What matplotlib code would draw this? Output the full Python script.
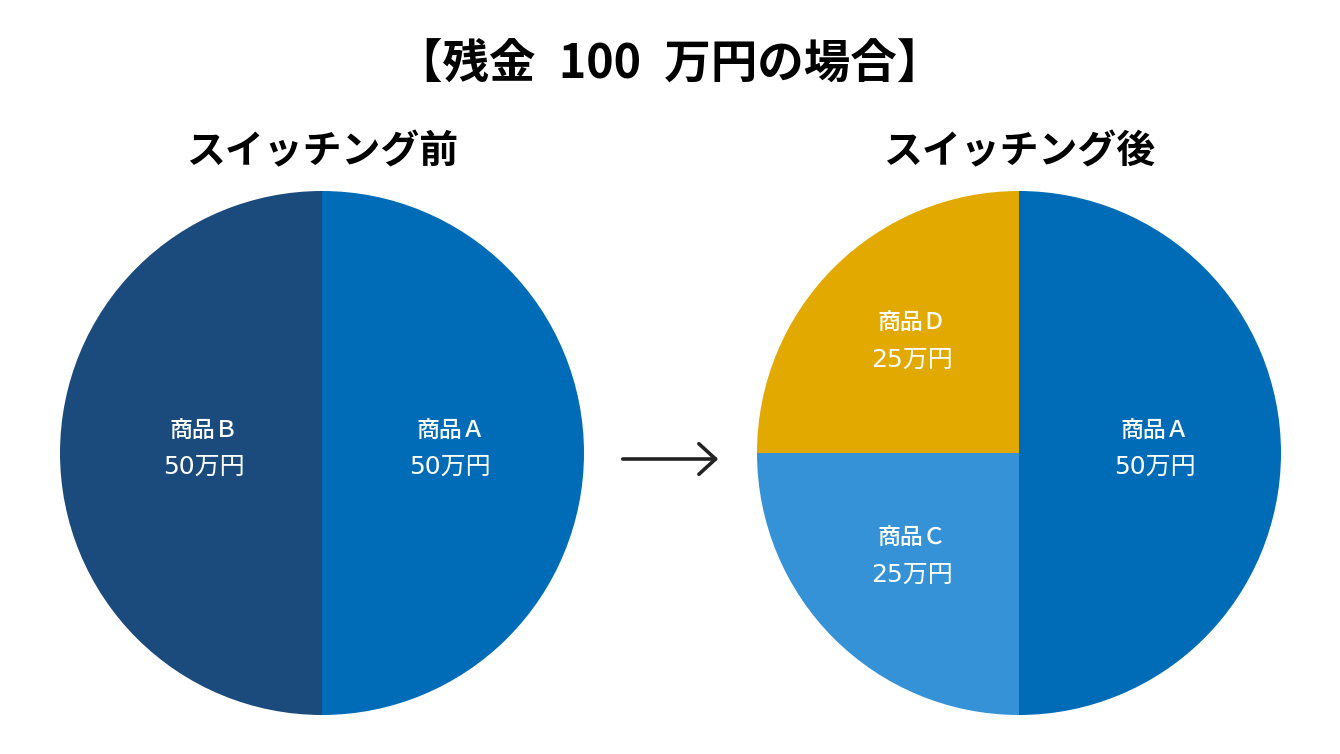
import numpy as np
import matplotlib.pyplot as plt

plt.rcParams['font.family'] = ['Noto Sans CJK JP', 'DejaVu Sans']

# data
title = "【残金\u2002100\u2002万円の場合】"
before_title = "スイッチング前"
after_title = "スイッチング後"

before_names = ["商品Ａ", "商品Ｂ"]
before_values = [50, 50]
before_colors = ["#006BB6", "#1B4B7C"]

after_names = ["商品Ａ", "商品Ｃ", "商品Ｄ"]
after_values = [50, 25, 25]
after_colors = ["#006BB6", "#3592D6", "#E2A900"]

W, H = 1340, 754
fig = plt.figure(figsize=(W / 100, H / 100), dpi=100)
ax = fig.add_axes([0, 0, 1, 1])

R = 262


def draw_pie(cx, cy, names, values, colors, dists):
    wedges, _ = ax.pie(values, colors=colors, startangle=90, counterclock=False,
                       center=(cx, cy), radius=R, frame=True,
                       wedgeprops=dict(linewidth=0))
    for w, name, val, d in zip(wedges, names, values, dists):
        ang = np.deg2rad((w.theta1 + w.theta2) / 2)
        x = cx + R * d * np.cos(ang)
        y = cy + R * d * np.sin(ang) + 3
        ax.text(x, y + 19, name, color="white", fontsize=16.5,
                ha="center", va="center", fontweight="medium")
        # wider latin digits, kanji from the CJK font
        ax.text(x, y - 17, f"{val}万円", color="white", fontsize=18,
                family=["DejaVu Sans", "Noto Sans CJK JP"],
                ha="center", va="center")


draw_pie(322, 301, before_names, before_values, before_colors, [0.49, 0.45])
draw_pie(1019, 301, after_names, after_values, after_colors, [0.52, 0.58, 0.58])

# pie() touches limits/axis, set them after
ax.set_xlim(0, W)
ax.set_ylim(0, H)
ax.set_aspect("equal")
ax.axis("off")

ax.text(W / 2, 689, title, fontsize=33.5, fontweight="bold", ha="center", va="center")
ax.text(322, 602, before_title, fontsize=28, fontweight="bold", ha="center", va="center")
ax.text(1019, 602, after_title, fontsize=28, fontweight="bold", ha="center", va="center")

ax.annotate("", xy=(721, 295), xytext=(620, 295),
            arrowprops=dict(arrowstyle="->,head_length=1.2,head_width=1.1",
                            color="#222222", lw=2.6))

fig.savefig("out.png", dpi=100, facecolor="white")
